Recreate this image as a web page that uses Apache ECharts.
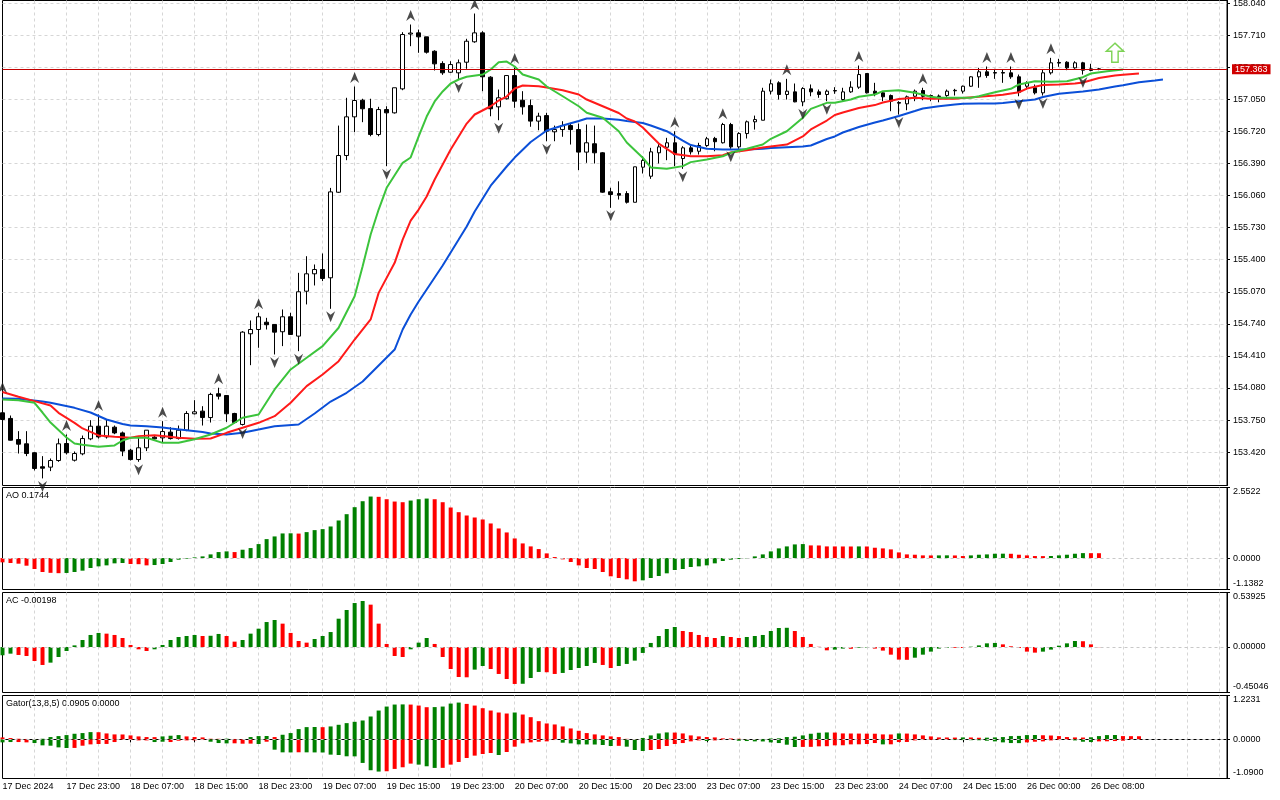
<!DOCTYPE html>
<html><head><meta charset="utf-8">
<script src="https://cdn.jsdelivr.net/npm/echarts@6/dist/echarts.min.js"></script>
<style>html,body{margin:0;padding:0;background:#fff}#c{width:1280px;height:800px}</style>
</head><body><div id="c"></div>
<script>
const tickLabels = ['17 Dec 2024','17 Dec 23:00','18 Dec 07:00','18 Dec 15:00','18 Dec 23:00','19 Dec 07:00','19 Dec 15:00','19 Dec 23:00','20 Dec 07:00','20 Dec 15:00','20 Dec 23:00','23 Dec 07:00','23 Dec 15:00','23 Dec 23:00','24 Dec 07:00','24 Dec 15:00','26 Dec 00:00','26 Dec 08:00'];
const priceTicks = [153.420,153.750,154.080,154.410,154.740,155.070,155.400,155.730,156.060,156.390,156.720,157.050,157.380,157.710,158.040];
const lastPrice = 157.363;

const opens = [153.825,153.767,153.550,153.506,153.414,153.270,153.266,153.334,153.509,153.337,
153.403,153.557,153.687,153.577,153.677,153.618,153.440,153.344,153.465,153.574,
153.567,153.626,153.560,153.646,153.815,153.842,153.776,154.021,154.003,153.818,
153.705,154.638,154.682,154.757,154.734,154.659,154.813,154.614,155.076,155.255,
155.299,155.214,156.094,156.472,156.870,157.041,156.955,156.688,156.945,156.911,
157.158,157.722,157.734,157.693,157.545,157.419,157.329,157.323,157.432,157.642,
157.734,157.278,156.973,157.056,157.295,157.041,156.986,156.826,156.883,156.716,
156.739,156.780,156.739,156.507,156.593,156.500,156.099,156.081,156.081,155.991,
156.352,156.259,156.500,156.557,156.603,156.441,156.551,156.516,156.575,156.648,
156.603,156.791,156.561,156.698,156.819,156.835,157.134,157.220,157.100,157.127,
157.024,157.158,157.127,157.100,157.136,157.048,157.127,157.175,157.316,157.134,
157.117,157.089,157.017,157.004,157.082,157.141,157.089,157.084,157.089,157.138,
157.134,157.185,157.282,157.333,157.320,157.326,157.323,157.282,157.185,157.169,
157.117,157.323,157.429,157.432,157.374,157.426,157.347,157.362];
const highs = [153.993,153.797,153.636,153.636,153.420,153.379,153.355,153.560,153.602,153.427,
153.591,153.749,153.808,153.756,153.694,153.632,153.455,153.577,153.646,153.591,
153.739,153.677,153.694,153.842,153.955,153.893,154.031,154.083,154.003,153.825,
154.665,154.775,154.854,154.802,154.734,154.888,154.854,155.265,155.436,155.351,
155.464,156.139,156.780,157.066,157.182,157.056,157.056,156.973,156.979,157.169,
157.741,157.820,157.768,157.693,157.555,157.442,157.442,157.460,157.673,157.933,
157.751,157.288,157.151,157.295,157.377,157.134,157.048,156.912,156.912,156.780,
156.825,156.808,156.801,156.791,156.780,156.507,156.140,156.207,156.105,156.356,
156.465,156.551,156.609,156.654,156.722,156.568,156.585,156.603,156.664,156.664,
156.808,156.808,156.712,156.832,156.883,157.169,157.254,157.236,157.261,157.213,
157.175,157.203,157.151,157.151,157.175,157.169,157.236,157.398,157.316,157.220,
157.134,157.100,157.031,157.089,157.151,157.169,157.100,157.100,157.151,157.158,
157.192,157.288,157.374,157.388,157.364,157.357,157.388,157.305,157.236,157.203,
157.357,157.477,157.467,157.442,157.442,157.436,157.416,157.374];
const lows = [153.736,153.540,153.406,153.379,153.232,153.150,153.225,153.321,153.396,153.324,
153.388,153.543,153.560,153.560,153.605,153.379,153.334,153.321,153.431,153.550,
153.523,153.550,153.550,153.636,153.808,153.694,153.725,153.962,153.731,153.715,
153.694,154.315,154.494,154.682,154.425,154.511,154.631,154.459,154.940,155.135,
155.180,154.895,156.088,156.424,156.713,156.815,156.670,156.670,156.362,156.904,
157.144,157.597,157.529,157.521,157.347,157.302,157.323,157.254,157.364,157.632,
157.134,156.876,156.835,157.048,156.963,156.893,156.768,156.732,156.619,156.619,
156.665,156.585,156.322,156.397,156.390,156.089,155.934,156.019,155.978,155.991,
156.287,156.232,156.390,156.424,156.362,156.335,156.482,156.482,156.561,156.516,
156.596,156.541,156.541,156.647,156.739,156.835,157.100,157.048,157.048,157.020,
156.979,157.082,157.066,157.031,157.107,157.031,157.117,157.158,157.110,157.082,
157.031,156.928,156.893,156.938,157.031,157.041,157.031,157.020,157.076,157.089,
157.110,157.179,157.169,157.271,157.261,157.220,157.261,157.082,157.151,157.100,
157.089,157.305,157.385,157.350,157.364,157.305,157.339,157.350];
const closes = [153.756,153.543,153.502,153.406,153.252,153.255,153.334,153.506,153.414,153.406,
153.560,153.687,153.577,153.687,153.618,153.431,153.344,153.465,153.646,153.557,
153.632,153.560,153.646,153.818,153.835,153.776,154.014,153.996,153.815,153.725,
154.655,154.682,154.813,154.731,154.655,154.813,154.631,155.070,155.255,155.299,
155.207,156.098,156.472,156.870,157.038,156.953,156.688,156.945,156.911,157.169,
157.717,157.732,157.693,157.535,157.415,157.323,157.408,157.426,157.648,157.734,
157.282,156.953,157.066,157.295,157.031,156.973,156.826,156.877,156.722,156.739,
156.780,156.739,156.507,156.603,156.500,156.095,156.071,156.064,155.991,156.356,
156.421,156.510,156.561,156.603,156.482,156.551,156.510,156.575,156.644,156.614,
156.791,156.561,156.698,156.819,156.842,157.134,157.210,157.100,157.134,157.024,
157.161,157.127,157.100,157.134,157.141,157.127,157.175,157.305,157.117,157.110,
157.076,157.031,157.011,157.076,157.134,157.082,157.076,157.079,157.134,157.143,
157.185,157.282,157.333,157.295,157.326,157.320,157.282,157.123,157.220,157.117,
157.323,157.426,157.423,157.374,157.426,157.350,157.364,157.363];

const jaw = [[0,153.972],[2,153.969],[5,153.941],[6,153.928],[9,153.876],[11,153.828],[13,153.756],[15,153.710],[16,153.694],[18,153.687],[20,153.674],[21,153.664],[23,153.646],[25,153.628],[26,153.612],[28,153.602],[30,153.619],[32,153.653],[34,153.687],[37,153.705],[39,153.818],[41,153.941],[43,154.031],[45,154.147],[47,154.312],[49,154.476],[50,154.682],[51,154.837],[52,154.970],[53,155.094],[54,155.217],[55,155.340],[56,155.474],[57,155.607],[58,155.741],[59,155.896],[61,156.162],[63,156.359],[64,156.451],[66,156.611],[68,156.729],[70,156.781],[72,156.827],[73,156.853],[75,156.853],[77,156.840],[78,156.827],[80,156.807],[81,156.781],[83,156.722],[85,156.626],[86,156.580],[88,156.541],[90,156.534],[93,156.534],[95,156.541],[96,156.549],[98,156.557],[100,156.565],[101,156.575],[103,156.642],[104,156.668],[105,156.709],[107,156.765],[109,156.812],[110,156.832],[112,156.879],[114,156.930],[115,156.956],[117,156.979],[119,156.997],[120,157.004],[122,157.007],[124,157.007],[125,157.012],[127,157.031],[129,157.048],[130,157.074],[132,157.107],[134,157.124],[135,157.130],[137,157.151],[139,157.182],[140,157.195],[142,157.226],[144,157.244],[145,157.254]];
const teeth = [[0,154.039],[2,153.990],[4,153.945],[6,153.900],[7,153.825],[9,153.722],[10,153.664],[12,153.592],[14,153.578],[16,153.568],[17,153.585],[19,153.595],[20,153.587],[22,153.568],[24,153.558],[26,153.561],[28,153.619],[30,153.671],[32,153.722],[34,153.790],[36,153.928],[38,154.099],[40,154.219],[42,154.356],[44,154.579],[46,154.785],[47,155.059],[49,155.368],[50,155.607],[51,155.803],[52,155.916],[53,156.050],[54,156.225],[56,156.534],[58,156.801],[59,156.894],[61,156.979],[62,157.038],[63,157.079],[64,157.161],[65,157.192],[67,157.185],[68,157.172],[70,157.144],[72,157.100],[73,157.048],[75,156.979],[77,156.910],[78,156.853],[79,156.822],[80,156.760],[82,156.595],[84,156.487],[86,156.465],[88,156.465],[90,156.475],[91,156.503],[93,156.527],[95,156.555],[96,156.565],[98,156.585],[100,156.668],[101,156.740],[103,156.832],[104,156.889],[105,156.914],[107,156.961],[109,156.991],[110,157.017],[112,157.053],[114,157.066],[116,157.055],[119,157.055],[120,157.064],[122,157.076],[124,157.089],[125,157.097],[127,157.123],[128,157.161],[129,157.179],[130,157.197],[132,157.203],[134,157.213],[135,157.223],[137,157.269],[139,157.295],[140,157.302],[142,157.316]];
const lips = [[0,153.962],[2,153.955],[4,153.928],[5,153.828],[6,153.725],[8,153.571],[9,153.509],[10,153.496],[12,153.475],[14,153.489],[15,153.540],[16,153.568],[18,153.568],[20,153.516],[22,153.516],[24,153.553],[26,153.602],[28,153.671],[30,153.774],[32,153.808],[34,154.065],[36,154.271],[38,154.391],[40,154.511],[42,154.700],[44,155.024],[45,155.333],[46,155.659],[47,155.916],[48,156.140],[50,156.397],[51,156.452],[52,156.668],[53,156.873],[54,157.028],[55,157.131],[56,157.213],[57,157.254],[58,157.282],[60,157.305],[61,157.357],[62,157.432],[63,157.439],[64,157.388],[65,157.305],[67,157.254],[68,157.182],[70,157.082],[72,156.979],[73,156.912],[75,156.860],[76,156.791],[77,156.722],[78,156.606],[80,156.449],[81,156.349],[83,156.336],[85,156.363],[86,156.404],[88,156.431],[90,156.465],[91,156.500],[93,156.541],[95,156.585],[96,156.644],[98,156.722],[100,156.860],[101,156.952],[103,157.014],[104,157.014],[106,157.048],[107,157.076],[109,157.100],[110,157.134],[112,157.144],[114,157.117],[116,157.076],[117,157.066],[119,157.066],[121,157.066],[122,157.082],[124,157.123],[126,157.158],[127,157.203],[129,157.236],[131,157.230],[133,157.236],[135,157.278],[136,157.316],[138,157.339],[140,157.357]];

const fractalUp = [0,8,12,20,27,32,44,51,59,64,84,90,98,107,115,123,126,131];
const fractalDown = [5,17,30,34,37,41,48,57,62,68,76,85,91,100,103,112,127,130,135];
const signalUp = [[139,157.53]];

const ao = [-0.156,-0.180,-0.204,-0.277,-0.397,-0.505,-0.535,-0.548,-0.540,-0.505,
-0.457,-0.361,-0.301,-0.265,-0.192,-0.180,-0.216,-0.222,-0.265,-0.253,
-0.216,-0.144,-0.060,-0.024,0.024,0.060,0.132,0.216,0.241,0.216,
0.301,0.361,0.505,0.685,0.782,0.890,0.895,0.885,0.938,1.010,
1.046,1.142,1.359,1.587,1.840,2.056,2.225,2.215,2.128,2.044,
2.020,2.080,2.128,2.152,2.128,2.020,1.828,1.659,1.539,1.467,
1.395,1.251,1.070,0.926,0.709,0.529,0.421,0.325,0.168,0.036,
-0.048,-0.144,-0.265,-0.361,-0.397,-0.505,-0.661,-0.722,-0.770,-0.842,
-0.806,-0.722,-0.649,-0.553,-0.433,-0.397,-0.325,-0.301,-0.265,-0.192,
-0.108,-0.060,-0.036,-0.012,0.060,0.132,0.241,0.349,0.421,0.493,
0.505,0.457,0.455,0.421,0.420,0.419,0.418,0.421,0.418,0.373,
0.349,0.313,0.204,0.132,0.120,0.096,0.094,0.096,0.098,0.094,
0.072,0.096,0.120,0.132,0.156,0.158,0.154,0.120,0.096,0.072,
0.070,0.074,0.096,0.120,0.156,0.178,0.176,0.1744];
const aoColors = 'rrrrrrrr'+'gggggggg'+'rrr'+'gggggggggg'+'r'+'ggggggg'+'r'+'ggggggggg'+'rrrr'+'ggg'+'rrrrrrrrrrrrrrrrrrrrrrrrrr'+'ggggggggggggggggggggg'+'rrrrrr'+'g'+'rrrrrrrrr'+'gg'+'rr'+'ggggg'+'rrrrr'+'ggggg'+'rr';

const ac = [-0.082,-0.066,-0.079,-0.089,-0.139,-0.178,-0.155,-0.099,-0.040,0.016,
0.069,0.119,0.139,0.132,0.119,0.089,0.020,-0.023,-0.040,-0.023,
0.020,0.069,0.099,0.109,0.119,0.109,0.111,0.129,0.109,0.053,
0.069,0.132,0.181,0.247,0.267,0.231,0.139,0.059,0.043,0.079,
0.109,0.148,0.280,0.366,0.435,0.455,0.419,0.231,0.030,-0.089,
-0.099,-0.023,0.043,0.089,0.030,-0.099,-0.218,-0.297,-0.300,-0.224,
-0.188,-0.218,-0.267,-0.317,-0.366,-0.364,-0.307,-0.247,-0.250,-0.267,
-0.257,-0.228,-0.208,-0.188,-0.158,-0.178,-0.208,-0.188,-0.168,-0.135,
-0.059,0.040,0.109,0.178,0.198,0.158,0.148,0.119,0.099,0.089,
0.109,0.099,0.089,0.099,0.109,0.119,0.158,0.188,0.190,0.158,
0.099,0.030,0.002,-0.033,-0.026,-0.016,-0.018,-0.007,-0.005,-0.016,
-0.036,-0.076,-0.125,-0.127,-0.106,-0.076,-0.046,-0.016,-0.007,-0.008,
-0.010,0.003,0.016,0.036,0.040,0.026,0.007,-0.010,-0.046,-0.056,
-0.046,-0.026,0.013,0.036,0.059,0.057,0.026,-0.00198];
const acColors = 'ggrrrrgggg'+'gggrrrrrrg'+'gggggrggrr'+'gggggrrrrg'+'ggggggrrrr'+'rgggrrrrrg'+'grrrrgggrr'+'gggggrrggg'+'gggggrrrrr'+'grrggggggr'+'rrrrggrggr'+'rrrrgggggr'+'rggggrrrrr'+'gggggrrr';

const gatorUp = [0.055,0.037,0.018,0.012,0.008,0.018,0.065,0.092,0.120,0.157,
0.176,0.203,0.200,0.166,0.139,0.137,0.111,0.083,0.065,0.063,
0.083,0.102,0.120,0.083,0.065,0.055,0.018,0.016,0.020,0.012,
0.008,0.065,0.092,0.095,0.065,0.129,0.176,0.287,0.342,0.345,
0.340,0.361,0.407,0.453,0.490,0.527,0.638,0.804,0.915,0.971,
0.975,0.970,0.943,0.897,0.900,0.915,0.998,1.026,0.989,0.943,
0.869,0.804,0.749,0.721,0.749,0.693,0.619,0.508,0.444,0.416,
0.361,0.305,0.240,0.176,0.139,0.111,0.083,0.065,0.015,0.010,
0.040,0.111,0.166,0.194,0.190,0.166,0.111,0.083,0.065,0.055,
0.028,0.025,0.018,0.010,0.006,0.012,0.025,0.030,0.065,0.074,
0.111,0.157,0.185,0.194,0.190,0.166,0.164,0.162,0.160,0.158,
0.139,0.137,0.166,0.162,0.139,0.111,0.083,0.055,0.053,0.051,
0.055,0.053,0.046,0.048,0.055,0.065,0.092,0.097,0.120,0.122,
0.115,0.108,0.092,0.065,0.055,0.052,0.058,0.092,0.120,0.122,
0.092,0.090,0.088];
const gatorUpColors = 'rrrrrggggg'+'ggrrrrrrrr'+'gggrrrrrgr'+'rgggrggggg'+'rggggggggg'+'grrrggggrr'+'rrrrgrrrrr'+'rrrrrrrrrr'+'ggggrrrrrr'+'rrrrrggggg'+'ggggrrrrrr'+'rrgrrrrrrr'+'grrggggggg'+'rrrrrrgggg'+'rrr';
const gatorDown = [-0.083,-0.074,-0.074,-0.083,-0.102,-0.166,-0.176,-0.222,-0.240,-0.238,
-0.176,-0.139,-0.129,-0.127,-0.074,-0.009,-0.018,-0.028,-0.028,-0.074,
-0.065,-0.074,-0.037,-0.028,-0.026,-0.018,-0.065,-0.102,-0.111,-0.109,
-0.120,-0.118,-0.129,-0.065,-0.287,-0.361,-0.363,-0.359,-0.361,-0.363,
-0.365,-0.425,-0.435,-0.471,-0.473,-0.656,-0.860,-0.897,-0.888,-0.823,
-0.777,-0.675,-0.703,-0.749,-0.795,-0.793,-0.703,-0.629,-0.518,-0.453,
-0.407,-0.379,-0.435,-0.351,-0.203,-0.111,-0.083,-0.065,-0.055,-0.018,
-0.092,-0.111,-0.139,-0.141,-0.143,-0.157,-0.185,-0.180,-0.203,-0.296,
-0.324,-0.296,-0.268,-0.185,-0.129,-0.102,-0.055,-0.028,-0.046,-0.028,
-0.018,-0.016,-0.037,-0.046,-0.055,-0.057,-0.083,-0.102,-0.148,-0.213,
-0.210,-0.208,-0.194,-0.190,-0.166,-0.164,-0.139,-0.137,-0.129,-0.102,
-0.139,-0.137,-0.074,-0.072,-0.028,-0.018,-0.016,-0.009,-0.008,-0.018,
-0.020,-0.022,-0.024,-0.037,-0.055,-0.083,-0.102,-0.104,-0.083,-0.065,
-0.055,-0.028,-0.018,-0.009,-0.028,-0.065,-0.074,-0.055,-0.053,-0.046,
-0.037];
const gatorDownColors = 'ggrrgggggr'+'rrrrrrrrrg'+'grrrrrgggr'+'rrgrgggrgg'+'ggggggggrr'+'rrgggrrrrr'+'rrgrrrrrrr'+'gggggggrgg'+'grrrrrrrgr'+'rrgggggggg'+'rrrrrrrrrr'+'grrrrrrrrg'+'ggggggggrr'+'rrrrgggrrr'+'r';

const aoRange = [-1.1382, 2.5522];
const acRange = [-0.45046, 0.53925];
const gatorRange = [-1.0900, 1.2231];

// ---------- chart ----------
const N = 154;
const categories = Array.from({length: N}, (_, i) => String(i));
const FONT = 'Liberation Sans';
const GREEN = '#008000', RED = '#ff0000';
const GRID_COLOR = '#d6d6d6';
const dashed = {color: GRID_COLOR, type: [3, 3], width: 1};
const grids = [
  {top: 0.5, height: 485},
  {top: 487.5, height: 102},
  {top: 592.5, height: 100},
  {top: 695.5, height: 83}
].map(g => Object.assign({left: 2.5, width: 1224.5, show: true, borderColor: '#000', borderWidth: 1,
  backgroundColor: 'transparent', outerBoundsMode: 'none', containLabel: false}, g));

const labelShown = (idx) => idx % 8 === 0 && idx / 8 < tickLabels.length;
const xAxes = grids.map((g, k) => ({
  type: 'category', gridIndex: k, data: categories, boundaryGap: false,
  axisLine: {show: k === 3, lineStyle: {color: '#000'}},
  axisTick: {show: k === 3, interval: labelShown, length: 3, lineStyle: {color: '#000'}},
  axisLabel: {show: k === 3, interval: labelShown, align: 'left', margin: 4, fontFamily: FONT, fontSize: 9, color: '#000',
    formatter: (v, idx) => tickLabels[idx / 8] || ''},
  splitLine: {show: true, interval: (idx) => idx > 0 && idx % 4 === 0, lineStyle: dashed}
}));

function oscAxis(k, range, digits) {
  const vals = [range[0], 0, range[1]];
  return {
    type: 'value', gridIndex: k, position: 'right', min: range[0], max: range[1],
    axisLine: {show: true, lineStyle: {color: '#000'}},
    axisTick: {show: true, customValues: vals, length: 3, lineStyle: {color: '#000'}},
    axisLabel: {customValues: vals, showMinLabel: true, showMaxLabel: true, margin: 6, fontFamily: FONT, fontSize: 9, color: '#000',
      formatter: v => {
        const s = v.toFixed(digits);
        if (Math.abs(v - range[1]) < 1e-9) return '{t|' + s + '}';
        if (Math.abs(v - range[0]) < 1e-9) return '{b|' + s + '}';
        return s;
      },
      rich: {
        t: {padding: [9, 0, 0, 0], fontFamily: FONT, fontSize: 9, color: '#000'},
        b: {padding: [0, 0, 11, 0], fontFamily: FONT, fontSize: 9, color: '#000'}
      }},
    splitLine: {show: false}
  };
}

const yAxes = [
  {type: 'value', gridIndex: 0, position: 'right', min: 153.077, max: 158.067,
   axisLine: {show: true, lineStyle: {color: '#000'}},
   axisTick: {show: true, customValues: priceTicks, length: 3, lineStyle: {color: '#000'}},
   axisLabel: {customValues: priceTicks, showMinLabel: true, showMaxLabel: true, margin: 6, fontFamily: FONT, fontSize: 9, color: '#000',
     formatter: v => v.toFixed(3)},
   splitLine: {show: true, lineStyle: dashed}},
  oscAxis(1, aoRange, 4),
  oscAxis(2, acRange, 5),
  oscAxis(3, gatorRange, 4)
];

const zeroLine = {symbol: ['none', 'none'], silent: true, animation: false, label: {show: false},
  data: [{yAxis: 0}], lineStyle: {color: '#c8c8c8', type: [3, 3], width: 1}};

const UP_PATH = 'path://M5 0L10 11L5 7.5L0 11Z';
const DOWN_PATH = 'path://M0 0L5 3.5L10 0L5 11Z';
const ARROW_PATH = 'path://M8 0L16 8L11 8L11 19L5 19L5 8L0 8Z';
const col = (codes) => (p) => codes[p.dataIndex] === 'g' ? GREEN : RED;
const lineSeries = (data, color) => ({type: 'line', xAxisIndex: 0, yAxisIndex: 0, data, showSymbol: false, symbol: 'none',
  lineStyle: {color, width: 2}, z: 3, silent: true});

const option = {
  animation: false,
  backgroundColor: '#ffffff',
  grid: grids,
  xAxis: xAxes,
  yAxis: yAxes,
  graphic: [
    {type: 'text', left: 6, top: 491, style: {text: 'AO ' + ao[ao.length - 1].toFixed(4), fontFamily: FONT, fontSize: 9, fill: '#000'}},
    {type: 'text', left: 6, top: 596, style: {text: 'AC ' + ac[ac.length - 1].toFixed(5), fontFamily: FONT, fontSize: 9, fill: '#000'}},
    {type: 'text', left: 6, top: 699.5, style: {text: 'Gator(13,8,5) 0.0905 0.0000', fontFamily: FONT, fontSize: 9, fill: '#000'}}
  ],
  series: [
    {type: 'candlestick', xAxisIndex: 0, yAxisIndex: 0, barWidth: 4, z: 2,
     data: opens.map((o, i) => [o, closes[i], lows[i], highs[i]]),
     itemStyle: {color: '#ffffff', color0: '#000000', borderColor: '#000000', borderColor0: '#000000', borderColorDoji: '#000000', borderWidth: 1},
     markLine: {symbol: ['none', 'none'], silent: true, animation: false,
       data: [{yAxis: lastPrice}],
       lineStyle: {color: '#c40000', width: 1, type: 'solid'},
       label: {show: true, position: 'end', distance: 5, formatter: () => lastPrice.toFixed(3),
         color: '#ffffff', backgroundColor: '#d00000', padding: [1, 3, 0, 3], fontFamily: FONT, fontSize: 9}}},
    lineSeries(jaw, '#0b4fd8'),
    lineSeries(teeth, '#ff1a1a'),
    lineSeries(lips, '#3cc43c'),
    {type: 'scatter', xAxisIndex: 0, yAxisIndex: 0, data: fractalUp.map(i => [i, highs[i]]), symbol: UP_PATH,
     symbolSize: [9, 11], symbolOffset: [0, -9], itemStyle: {color: '#1e1e1e'}, z: 4, silent: true},
    {type: 'scatter', xAxisIndex: 0, yAxisIndex: 0, data: fractalDown.map(i => [i, lows[i]]), symbol: DOWN_PATH,
     symbolSize: [9, 11], symbolOffset: [0, 8], itemStyle: {color: '#1e1e1e'}, z: 4, silent: true},
    {type: 'scatter', xAxisIndex: 0, yAxisIndex: 0, data: signalUp, symbol: ARROW_PATH, symbolSize: [17, 19],
     itemStyle: {color: '#ffffff', borderColor: '#5cc82a', borderWidth: 1.5}, z: 4, silent: true},
    {type: 'bar', xAxisIndex: 1, yAxisIndex: 1, data: ao, barWidth: 4, itemStyle: {color: col(aoColors)}, silent: true, markLine: zeroLine},
    {type: 'bar', xAxisIndex: 2, yAxisIndex: 2, data: ac, barWidth: 4, itemStyle: {color: col(acColors)}, silent: true, markLine: zeroLine},
    {type: 'bar', xAxisIndex: 3, yAxisIndex: 3, data: gatorUp, barWidth: 4, barGap: '-100%', itemStyle: {color: col(gatorUpColors)}, silent: true, markLine: zeroLine},
    {type: 'bar', xAxisIndex: 3, yAxisIndex: 3, data: gatorDown, barWidth: 4, barGap: '-100%', itemStyle: {color: col(gatorDownColors)}, silent: true}
  ]
};
const chart = echarts.init(document.getElementById('c'), null, {renderer: 'canvas', width: 1280, height: 800});
chart.setOption(option);
</script>
</body></html>
